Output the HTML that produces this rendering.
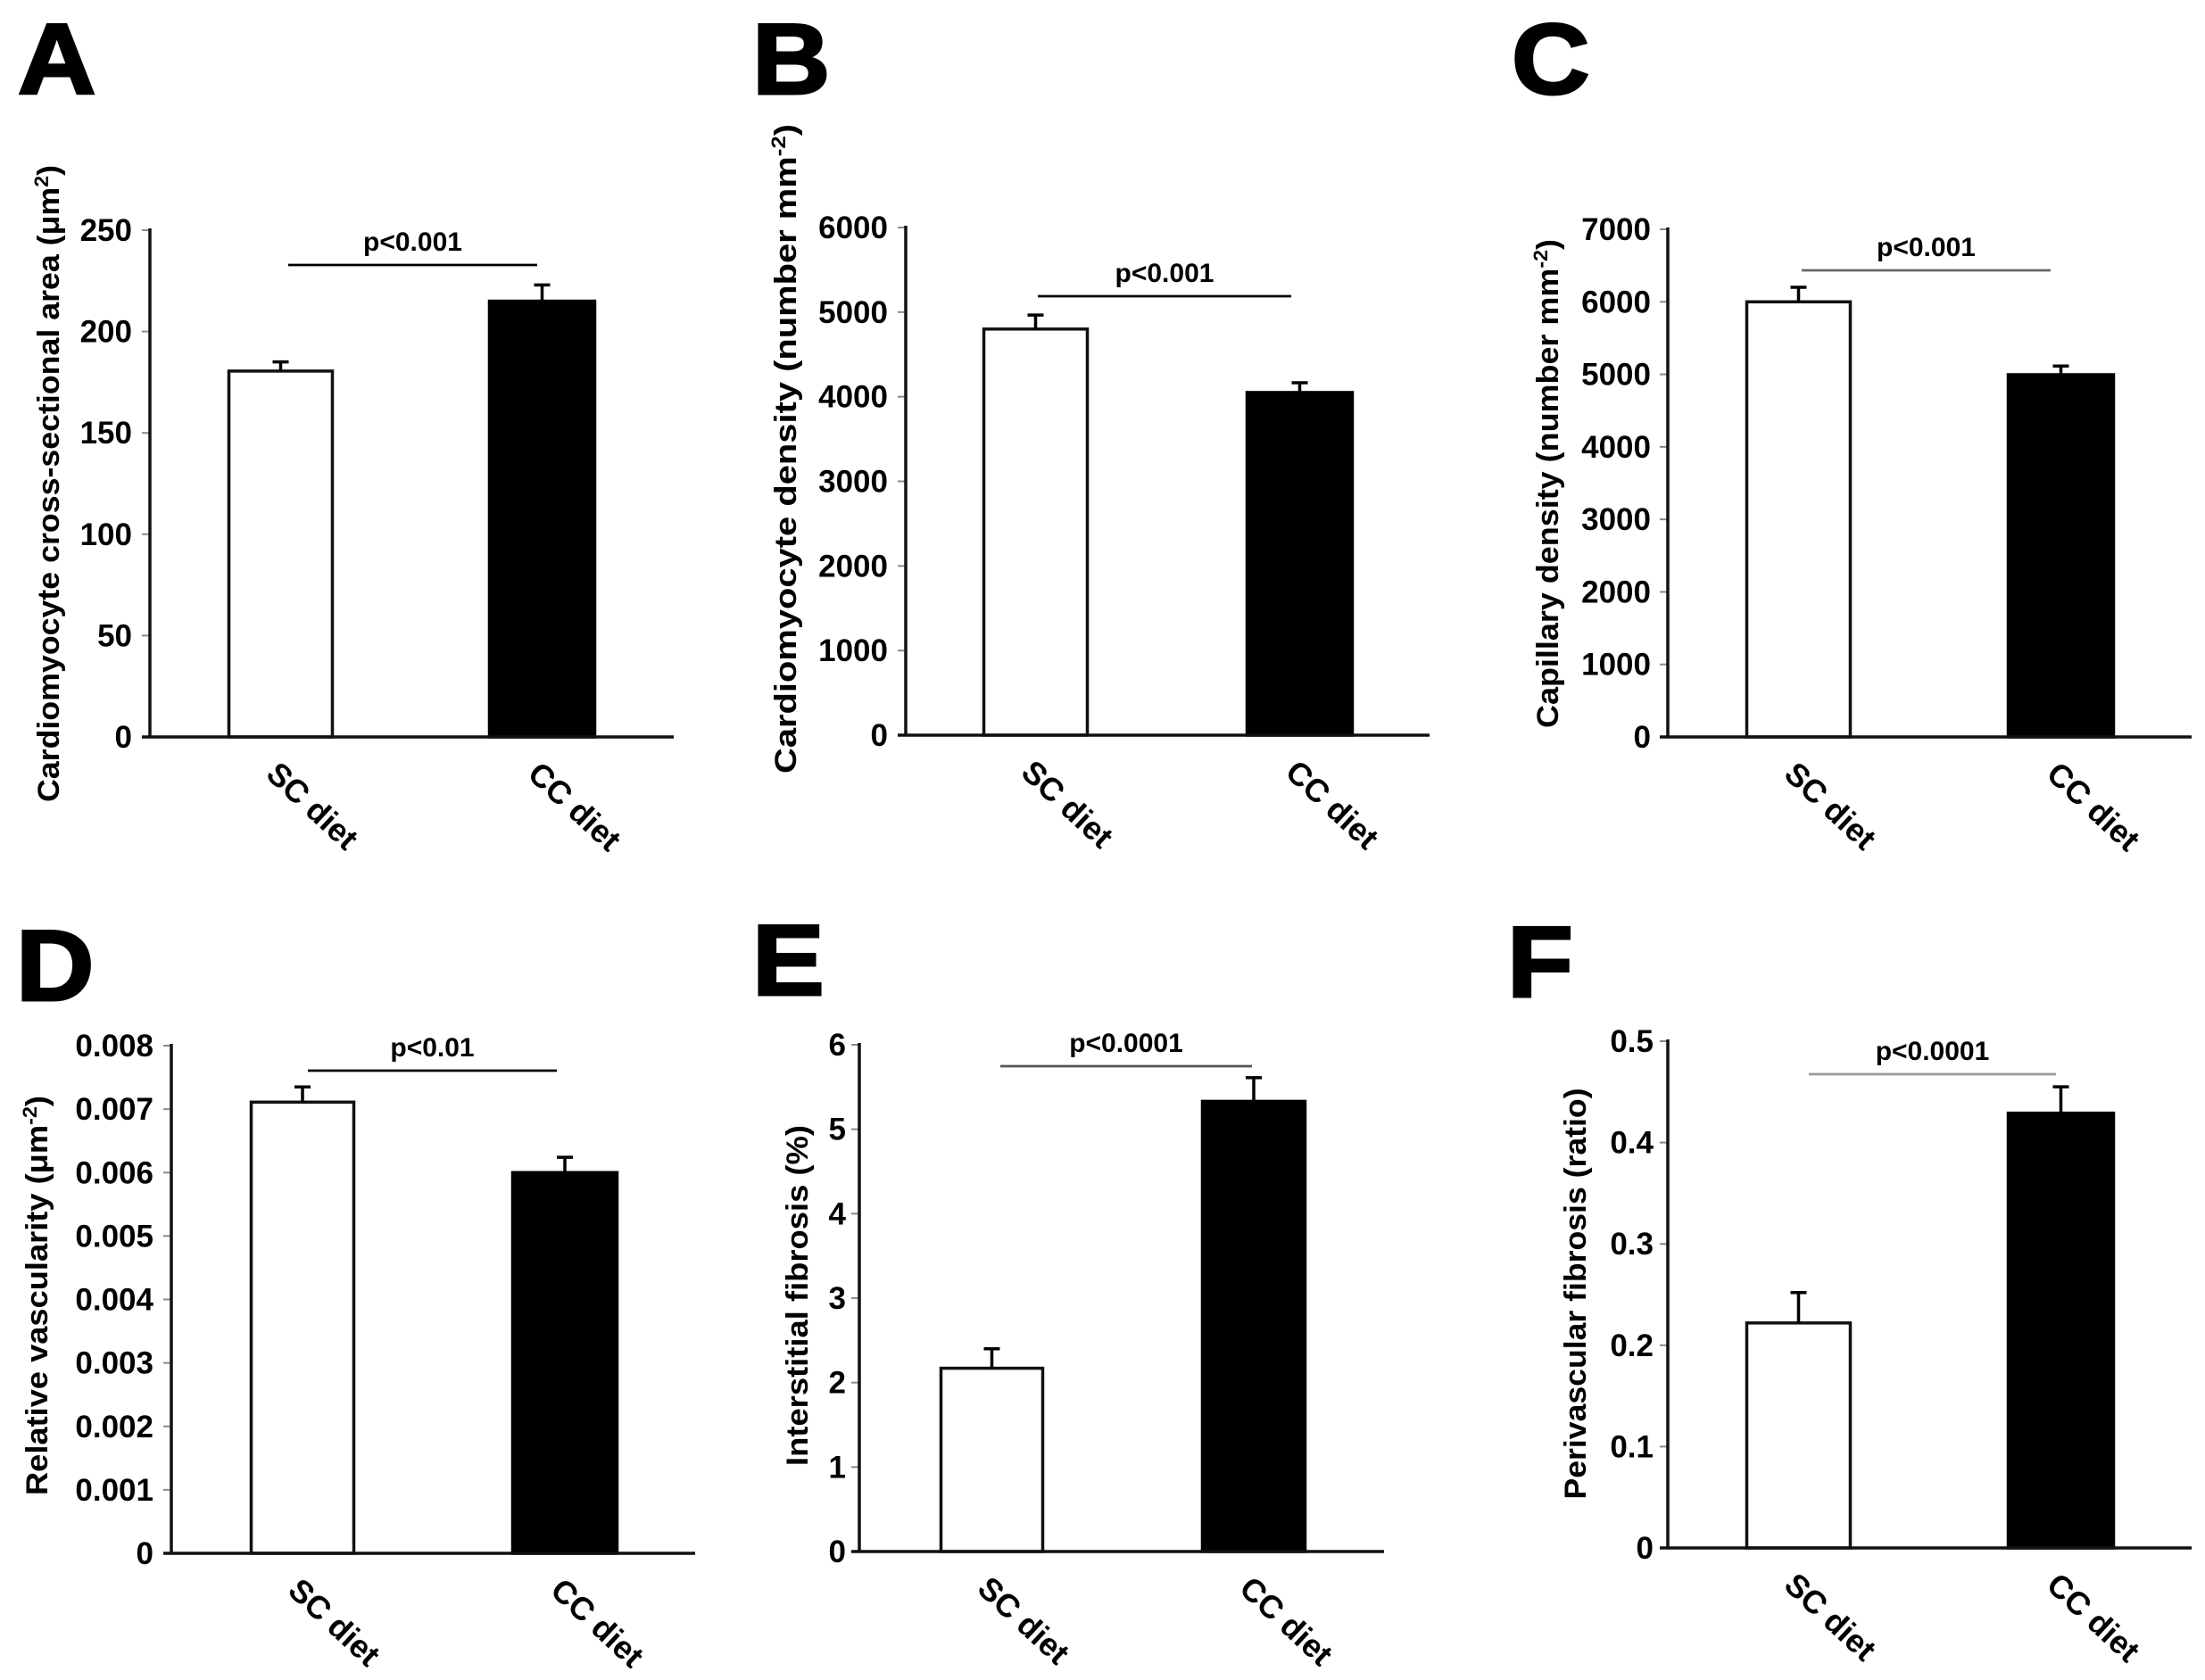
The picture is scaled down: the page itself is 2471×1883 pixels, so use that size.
<!DOCTYPE html>
<html><head><meta charset="utf-8"><style>
html,body{margin:0;padding:0;background:#fff;}
svg{display:block;font-family:"Liberation Sans",Arial,sans-serif;font-weight:bold;}
</style></head><body>
<svg id="fig" width="2471" height="1883" viewBox="0 0 2471 1883" xmlns="http://www.w3.org/2000/svg"></svg>
<script>
const categories = ["SC diet", "CC diet"];
const valuesA = [180.5, 215];
const errorsA = [185, 223];
const ticksA = [0, 50, 100, 150, 200, 250];
const valuesB = [4800, 4050];
const errorsB = [4965, 4165];
const ticksB = [0, 1000, 2000, 3000, 4000, 5000, 6000];
const valuesC = [6000, 4995];
const errorsC = [6200, 5115];
const ticksC = [0, 1000, 2000, 3000, 4000, 5000, 6000, 7000];
const valuesD = [0.00711, 0.0060];
const errorsD = [0.00735, 0.00624];
const ticksD = ["0", "0.001", "0.002", "0.003", "0.004", "0.005", "0.006", "0.007", "0.008"];
const valuesE = [2.17, 5.33];
const errorsE = [2.40, 5.61];
const ticksE = [0, 1, 2, 3, 4, 5, 6];
const valuesF = [0.222, 0.429];
const errorsF = [0.252, 0.455];
const ticksF = ["0", "0.1", "0.2", "0.3", "0.4", "0.5"];
const pLabels = ["p<0.001", "p<0.001", "p<0.001", "p<0.01", "p<0.0001", "p<0.0001"];

const NS = "http://www.w3.org/2000/svg";
const svg = document.getElementById("fig");
function mk(tag, attrs, parent, text) {
  const e = document.createElementNS(NS, tag);
  for (const k in attrs) e.setAttribute(k, attrs[k]);
  if (text !== undefined) e.textContent = text;
  (parent || svg).appendChild(e);
  return e;
}

const panels = [
  {id:"a", letter:"A", lx:20, ly:105, ax:168, y0:826, yTop:258, xEnd:755, bars:[[255,374],[547,668]], vals:valuesA, errs:errorsA, ticks:ticksA, tickRight:148,
   title:"Cardiomyocyte cross-sectional area (μm", sup:"2", tail:")", tx:54, tyc:542, tlen:714, sig:[323,602,297], pcol:"#000"},
  {id:"b", letter:"B", lx:843, ly:105, ax:1015, y0:824, yTop:255, xEnd:1602, bars:[[1101,1220],[1396,1517]], vals:valuesB, errs:errorsB, ticks:ticksB, tickRight:995,
   title:"Cardiomyocyte density (number mm", sup:"-2", tail:")", tx:880, tyc:503, tlen:728, sig:[1163,1447,332], pcol:"#000"},
  {id:"c", letter:"C", lx:1694, ly:105, ax:1869, y0:826, yTop:257, xEnd:2456, bars:[[1956,2075],[2249,2370]], vals:valuesC, errs:errorsC, ticks:ticksC, tickRight:1850,
   title:"Capillary density (number mm", sup:"-2", tail:")", tx:1734, tyc:542, tlen:548, sig:[2019,2298,303], pcol:"#666"},
  {id:"d", letter:"D", lx:18, ly:1121, ax:192, y0:1741, yTop:1172, xEnd:779, bars:[[280,398],[573,693]], vals:valuesD, errs:errorsD, ticks:ticksD, tickRight:172,
   title:"Relative vascularity (μm", sup:"-2", tail:")", tx:41, tyc:1452, tlen:448, sig:[345,624,1200], pcol:"#000"},
  {id:"e", letter:"E", lx:843, ly:1115, ax:963, y0:1739, yTop:1171, xEnd:1551, bars:[[1053,1170],[1346,1464]], vals:valuesE, errs:errorsE, ticks:ticksE, tickRight:948,
   title:"Interstitial fibrosis (%)", sup:"", tail:"", tx:893, tyc:1452, tlen:382, sig:[1121,1403,1195], pcol:"#555"},
  {id:"f", letter:"F", lx:1689, ly:1117, ax:1869, y0:1735, yTop:1167, xEnd:2456, bars:[[1956,2075],[2249,2370]], vals:valuesF, errs:errorsF, ticks:ticksF, tickRight:1853,
   title:"Perivascular fibrosis (ratio)", sup:"", tail:"", tx:1765, tyc:1450, tlen:461, sig:[2027,2304,1204], pcol:"#999"}
];

panels.forEach((p, pi) => {
  const g = mk("g", {});
  
  
  const tickVals = p.ticks.map(Number);
  const vmax = tickVals[tickVals.length - 1];
  const yScale = v => p.y0 - (v / vmax) * (p.y0 - p.yTop);

  const L = mk("text", {x:0, y:0, "font-size":112, fill:"#000", stroke:"#000", "stroke-width":3,
    transform:`translate(${p.lx},${p.ly}) scale(1.08,1)`}, g, p.letter);
  
  

  p.ticks.forEach((t, i) => {
    const y = yScale(Number(t));
    const tk = mk("line", {x1:p.ax - 9, x2:p.ax, y1:y, y2:y, stroke:"#888", "stroke-width":2}, g);
    
    
    const tl = mk("text", {x:p.tickRight, y:y + 12, "font-size":35, "text-anchor":"end", fill:"#000"}, g, String(t));
    
    
  });

  p.vals.forEach((v, i) => {
    const [x1, x2] = p.bars[i];
    const yt = yScale(v);
    const bar = mk("rect", {x:x1 + 1.5, y:yt, width:x2 - x1 - 3, height:p.y0 - yt,
      fill: i === 0 ? "#fff" : "#000", stroke: i === 0 ? "#111" : "#000", "stroke-width":3.5}, g);
    
    
    const cx = (x1 + x2) / 2;
    const ye = yScale(p.errs[i]);
    const eb = mk("path", {d:`M${cx},${yt} V${ye} M${cx - 9},${ye} H${cx + 9}`, stroke:"#000", "stroke-width":3.5, fill:"none"}, g);
    
    
    const cl = mk("text", {x:0, y:0, "font-size":36, fill:"#000",
      transform:`translate(${cx - 18},${p.y0 + 44}) rotate(43)`}, g, categories[i]);
    
    
  });

  const ya = mk("line", {x1:p.ax, x2:p.ax, y1:p.yTop - 2, y2:p.y0 + 1.5, stroke:"#111", "stroke-width":3.5}, g);
  
  
  const xa = mk("line", {x1:p.ax - 9, x2:p.xEnd, y1:p.y0, y2:p.y0, stroke:"#111", "stroke-width":3.5}, g);
  
  

  const [sx1, sx2, sy] = p.sig;
  const sl = mk("line", {x1:sx1, x2:sx2, y1:sy, y2:sy, stroke:p.pcol, "stroke-width":2.8}, g);
  
  
  const pt = mk("text", {x:(sx1 + sx2) / 2, y:sy - 16, "font-size":30, "text-anchor":"middle", fill:"#000"}, g, pLabels[pi]);
  
  

  const yt = mk("text", {x:0, y:0, "font-size":34, "text-anchor":"middle", fill:"#000",
    transform:`translate(${p.tx + 12},${p.tyc}) rotate(-90)`, textLength:p.tlen, lengthAdjust:"spacingAndGlyphs"}, g);
  
  
  mk("tspan", {}, yt, p.title);
  if (p.sup) {
    mk("tspan", {dy:-12, "font-size":22}, yt, p.sup);
    mk("tspan", {dy:12}, yt, p.tail);
  }
});
</script>
</body></html>
